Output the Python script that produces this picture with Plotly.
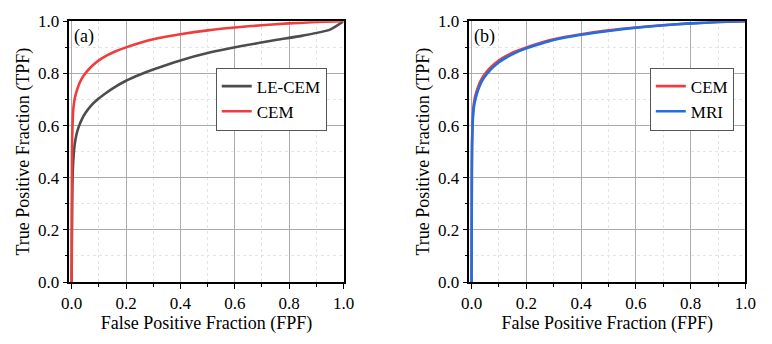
import plotly.graph_objects as go

# ---- data ----
fpf_lecem = [0, 0.002, 0.004, 0.007, 0.011, 0.018, 0.027, 0.038, 0.05, 0.07, 0.095, 0.12, 0.15, 0.2, 0.25, 0.3, 0.4, 0.5, 0.625, 0.75, 0.85, 0.95, 1.0]
tpf_lecem = [0, 0.30, 0.42, 0.48, 0.525, 0.567, 0.598, 0.625, 0.647, 0.675, 0.70, 0.72, 0.742, 0.772, 0.795, 0.815, 0.85, 0.878, 0.905, 0.928, 0.945, 0.968, 1.0]

fpf_cem_a = [0, 0.001, 0.002, 0.006, 0.01, 0.014, 0.02, 0.03, 0.04, 0.05, 0.065, 0.08, 0.1, 0.13, 0.16, 0.2, 0.25, 0.3, 0.4, 0.5, 0.6, 0.7, 0.8, 0.9, 1.0]
tpf_cem_a = [0, 0.42, 0.55, 0.66, 0.695, 0.715, 0.737, 0.765, 0.785, 0.80, 0.818, 0.833, 0.85, 0.869, 0.884, 0.90, 0.917, 0.931, 0.950, 0.965, 0.976, 0.985, 0.992, 0.997, 1.0]

fpf_cem_b = [0, 0.001, 0.002, 0.006, 0.01, 0.014, 0.02, 0.03, 0.04, 0.05, 0.065, 0.08, 0.1, 0.13, 0.16, 0.2, 0.25, 0.3, 0.4, 0.5, 0.6, 0.7, 0.8, 0.9, 1.0]
tpf_cem_b = [0, 0.42, 0.55, 0.66, 0.695, 0.715, 0.737, 0.765, 0.785, 0.80, 0.818, 0.833, 0.85, 0.869, 0.884, 0.90, 0.917, 0.931, 0.950, 0.965, 0.976, 0.985, 0.992, 0.997, 1.0]

fpf_mri = [0, 0.001, 0.002, 0.006, 0.01, 0.014, 0.02, 0.03, 0.04, 0.05, 0.065, 0.08, 0.1, 0.13, 0.16, 0.2, 0.25, 0.3, 0.4, 0.5, 0.6, 0.7, 0.8, 0.9, 1.0]
tpf_mri = [0, 0.40, 0.53, 0.645, 0.68, 0.70, 0.724, 0.753, 0.774, 0.79, 0.809, 0.825, 0.843, 0.863, 0.879, 0.896, 0.913, 0.928, 0.948, 0.963, 0.975, 0.985, 0.992, 0.997, 1.0]

tick_vals = [0, 0.2, 0.4, 0.6, 0.8, 1.0]
tick_text = ["0.0", "0.2", "0.4", "0.6", "0.8", "1.0"]
panel_labels = ["(a)", "(b)"]

RED = "#F03C3C"
GRAY = "#4D4D4D"
BLUE = "#1E6FE6"
FONT = "Liberation Serif, Times New Roman, serif"

fig = go.Figure()
LW = 2.6
SM = 0.6
fig.add_trace(go.Scatter(x=fpf_lecem, y=tpf_lecem, name="LE-CEM", mode="lines",
                         line=dict(color=GRAY, width=LW, shape="spline", smoothing=SM),
                         xaxis="x", yaxis="y", legend="legend"))
fig.add_trace(go.Scatter(x=fpf_cem_a, y=tpf_cem_a, name="CEM", mode="lines",
                         line=dict(color=RED, width=LW, shape="spline", smoothing=SM),
                         xaxis="x", yaxis="y", legend="legend"))
fig.add_trace(go.Scatter(x=fpf_cem_b, y=tpf_cem_b, name="CEM", mode="lines",
                         line=dict(color=RED, width=LW, shape="spline", smoothing=SM),
                         xaxis="x2", yaxis="y2", legend="legend2"))
fig.add_trace(go.Scatter(x=fpf_mri, y=tpf_mri, name="MRI", mode="lines",
                         line=dict(color=BLUE, width=LW, shape="spline", smoothing=SM),
                         xaxis="x2", yaxis="y2", legend="legend2"))

def axis_common():
    return dict(
        showline=True, linecolor="black", linewidth=1.5, mirror=True,
        ticks="outside", ticklen=5, tickwidth=1, tickcolor="black",
        tickvals=tick_vals, ticktext=tick_text,
        tickfont=dict(family=FONT, size=17, color="black"),
        showgrid=True, gridcolor="#ABABAB", gridwidth=1,
        zeroline=False,
        minor=dict(dtick=0.1, tick0=0, ticks="outside", ticklen=3, tickcolor="black",
                   showgrid=True, gridcolor="#E4E4E4", griddash="dot", gridwidth=1),
    )

xa = axis_common()
xa.update(range=[-0.008, 1.0], title=dict(text="False Positive Fraction (FPF)",
          font=dict(family=FONT, size=18, color="black"), standoff=2))
ya = axis_common()
ya.update(range=[0, 1.0], title=dict(text="True Positive Fraction (TPF)",
          font=dict(family=FONT, size=18, color="black"), standoff=4))

fig.update_layout(
    width=772, height=344,
    margin=dict(l=0, r=0, t=0, b=0),
    paper_bgcolor="white", plot_bgcolor="white",
    xaxis=dict(**xa, domain=[63/772, 344/772], anchor="y"),
    yaxis=dict(**ya, domain=[55/344, 331/344], anchor="x"),
    xaxis2=dict(**xa, domain=[473/772, 756/772], anchor="y2"),
    yaxis2=dict(**ya, domain=[55/344, 331/344], anchor="x2"),
    legend=dict(x=213/772, y=1-62/344, xanchor="left", yanchor="top",
                bgcolor="white", bordercolor="#555555", borderwidth=1,
                font=dict(family=FONT, size=17, color="black"), tracegroupgap=0),
    legend2=dict(x=658/772, y=1-62/344, xanchor="left", yanchor="top",
                 bgcolor="white", bordercolor="#555555", borderwidth=1,
                 font=dict(family=FONT, size=17, color="black"), tracegroupgap=0),
    annotations=[
        dict(text=panel_labels[0], x=0.0, y=0.99, xref="x", yref="y", xanchor="left", yanchor="top",
             showarrow=False, font=dict(family=FONT, size=18, color="black")),
        dict(text=panel_labels[1], x=0.0, y=0.99, xref="x2", yref="y2", xanchor="left", yanchor="top",
             showarrow=False, font=dict(family=FONT, size=18, color="black")),
    ],
)

fig.write_html("out.html")
